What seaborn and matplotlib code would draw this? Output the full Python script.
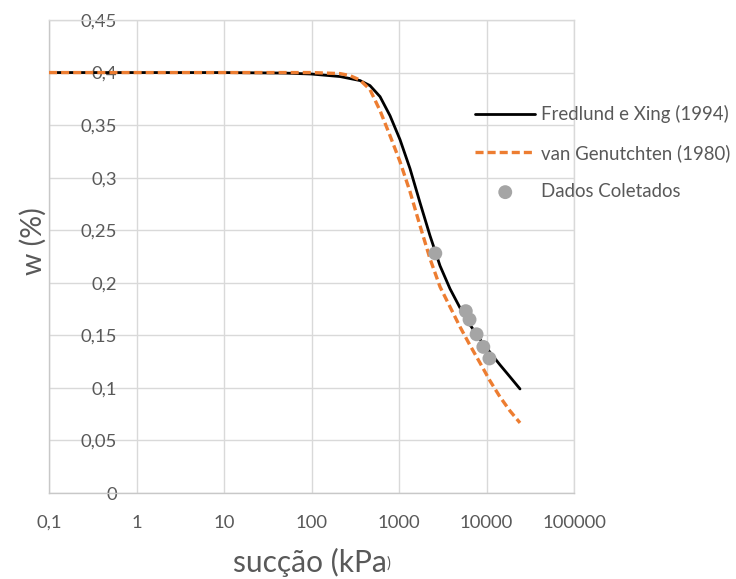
import matplotlib
matplotlib.use("Agg")
import matplotlib.pyplot as plt
import seaborn as sns

# Fredlund & Xing (1994) fitted curve: suction (kPa) vs water content
suction_fx = [0.1, 1, 10, 50, 100, 212, 358, 466, 607, 789, 1027, 1336, 1738,
              2261, 2942, 3828, 4979, 6478, 8428, 10965, 14266, 18560, 24150]
w_fx = [0.400, 0.400, 0.400, 0.3995, 0.3986, 0.3962, 0.3924, 0.3876, 0.3771,
        0.3590, 0.3362, 0.3086, 0.2762, 0.2448, 0.2162, 0.1943, 0.1762, 0.1600,
        0.1462, 0.1338, 0.1219, 0.1105, 0.0990]

# van Genuchten (1980) fitted curve
suction_vg = [0.1, 1, 10, 50, 100, 212, 275, 358, 466, 607, 789, 1027, 1336,
              1738, 2261, 2942, 3828, 4979, 6478, 8428, 10965, 14266, 18560,
              24150]
w_vg = [0.400, 0.400, 0.400, 0.400, 0.400, 0.3990, 0.3971, 0.3929, 0.3838,
        0.3638, 0.3400, 0.3152, 0.2867, 0.2543, 0.2229, 0.1962, 0.1771, 0.1581,
        0.1405, 0.1238, 0.1067, 0.0914, 0.0781, 0.0667]

# measured points
suction_obs = [2600, 5800, 6400, 7700, 9200, 10800]
w_obs = [0.228, 0.173, 0.165, 0.151, 0.139, 0.128]

x_ticks = [0.1, 1, 10, 100, 1000, 10000, 100000]
x_labels = ["0,1", "1", "10", "100", "1000", "10000", "100000"]
y_ticks = [0, 0.05, 0.1, 0.15, 0.2, 0.25, 0.3, 0.35, 0.4, 0.45]
y_labels = ["0", "0,05", "0,1", "0,15", "0,2", "0,25", "0,3", "0,35", "0,4", "0,45"]

sns.set_theme(style="white")
plt.rcParams["font.family"] = ["Lato", "DejaVu Sans"]
plt.rcParams["lines.scale_dashes"] = False

W, H = 736, 579
fig = plt.figure(figsize=(W / 100, H / 100), dpi=100)
ax = fig.add_axes([49 / W, 1 - 493 / H, (574 - 49) / W, (493 - 20) / H])

text_gray = "#595959"
grid_gray = "#D9D9D9"

sns.lineplot(x=suction_fx, y=w_fx, ax=ax, color="black", lw=2.0,
             label="Fredlund e Xing (1994)", zorder=3)
sns.lineplot(x=suction_vg, y=w_vg, ax=ax, color="#ED7D31", lw=2.4,
             linestyle=(0, (5.8, 2.9)), dash_capstyle="butt",
             label="van Genutchten (1980)", zorder=4)
sns.scatterplot(x=suction_obs, y=w_obs, ax=ax, color="#A5A5A5", s=100,
                edgecolor="none", label="Dados Coletados", zorder=5)

ax.set_xscale("log")
ax.set_xlim(0.1, 100000)
ax.set_ylim(0, 0.45)
ax.xaxis.set_major_locator(plt.FixedLocator(x_ticks))
ax.xaxis.set_major_formatter(plt.FixedFormatter(x_labels))
ax.xaxis.set_minor_locator(plt.NullLocator())
ax.yaxis.set_major_locator(plt.FixedLocator(y_ticks))
ax.yaxis.set_major_formatter(plt.FixedFormatter(y_labels))

ax.grid(True, which="major", color=grid_gray, lw=1)
ax.set_axisbelow(True)
for s in ax.spines.values():
    s.set_color(grid_gray)
    s.set_linewidth(1)
ax.spines["left"].set_color("#C8C8C8")
ax.spines["bottom"].set_color("#C8C8C8")

ax.tick_params(axis="x", length=0, pad=15.5, labelsize=13.3, labelcolor=text_gray)
ax.tick_params(axis="y", length=0, pad=-49, labelsize=13.3, labelcolor=text_gray)
ax.set_xlabel("")
ax.set_ylabel("")

leg = ax.legend(loc="upper left", bbox_to_anchor=(475 / W, 1 - 105 / H),
                bbox_transform=fig.transFigure, frameon=False, fontsize=13.4,
                handlelength=3.25, handletextpad=0.28, labelspacing=1.13,
                borderpad=0, borderaxespad=0)
for t in leg.get_texts():
    t.set_color(text_gray)

# axis titles
fig.text(33 / W, 1 - 241 / H, "w (%)", rotation=90, ha="center", va="center",
         fontsize=20.5, color=text_gray)

fig.canvas.draw()
renderer = fig.canvas.get_renderer()
t_main = fig.text(0, 1 - 572 / H, "sucção (kPa", ha="left", va="baseline",
                  fontsize=21.5, color=text_gray)
t_par = fig.text(0, 0, ")", ha="left", va="center", fontsize=10.5,
                 color=text_gray)
w_main = t_main.get_window_extent(renderer).width
w_par = t_par.get_window_extent(renderer).width
x0 = 311.5 - (w_main + w_par) / 2
t_main.set_x(x0 / W)
t_par.set_x((x0 + w_main) / W)
t_par.set_y(1 - 564 / H)

fig.savefig("out.png", dpi=100)
